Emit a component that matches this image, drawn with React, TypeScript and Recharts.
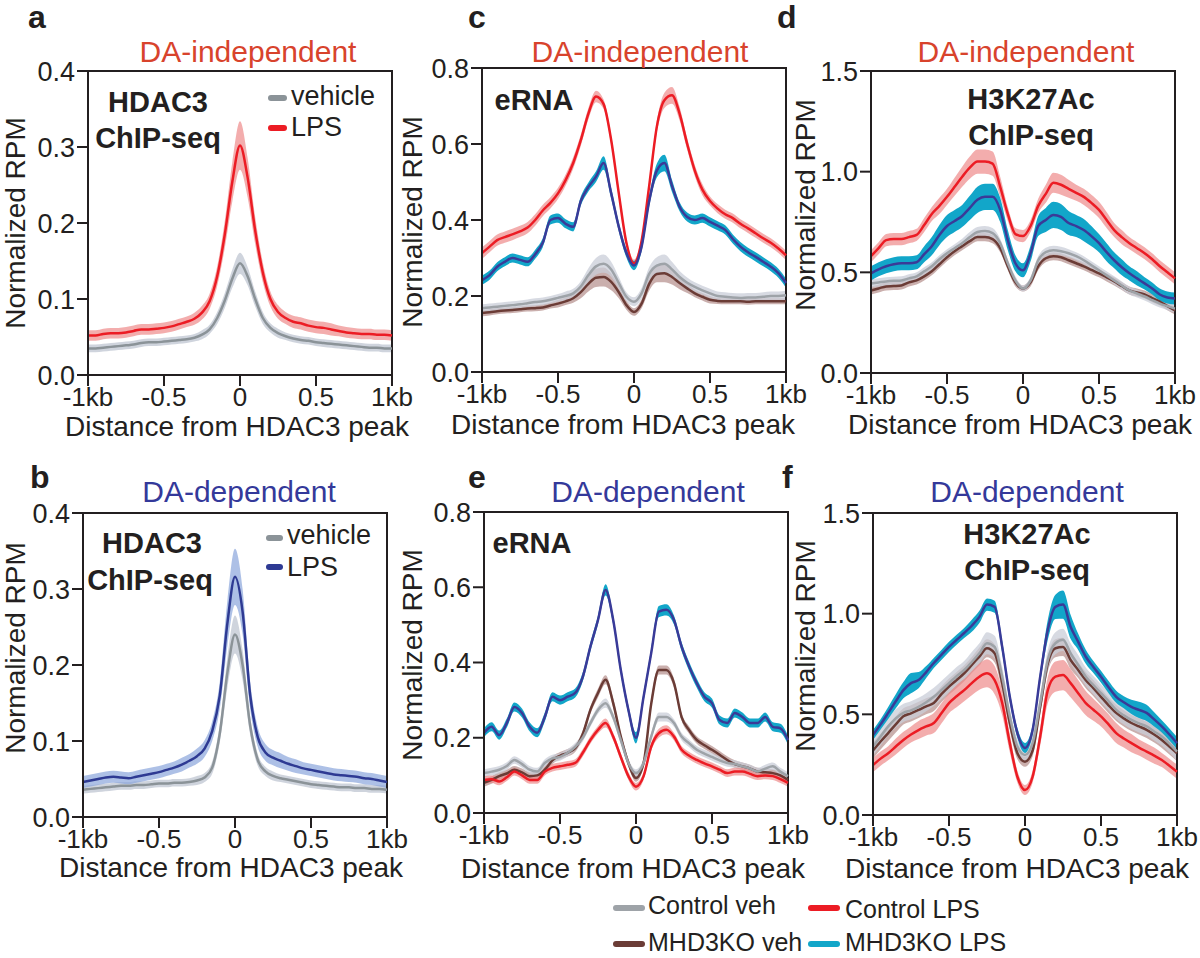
import { Area, ComposedChart, Line, ReferenceArea, XAxis, YAxis } from 'recharts'

const FONT = '"Liberation Sans", Arial, Helvetica, sans-serif'
const INK = '#231f20'
const RED_TXT = '#d8432c'
const BLUE_TXT = '#34399a'

// distance from HDAC3 peak (kb)
const xPos = [
  -1, -0.95, -0.9, -0.85, -0.8, -0.75, -0.7, -0.65, -0.6, -0.55,
  -0.5, -0.45, -0.4, -0.35, -0.3, -0.25, -0.2, -0.15, -0.1, -0.05,
  0,
  0.05, 0.1, 0.15, 0.2, 0.25, 0.3, 0.35, 0.4, 0.45, 0.5,
  0.55, 0.6, 0.65, 0.7, 0.75, 0.8, 0.85, 0.9, 0.95, 1,
]
const xTicks = [-1, -0.5, 0, 0.5, 1]
const xTickLabels = ['-1kb', '-0.5', '0', '0.5', '1kb']
const yTicksSmall = [0, 0.1, 0.2, 0.3, 0.4]
const yTicksMid = [0, 0.2, 0.4, 0.6, 0.8]
const yTicksLarge = [0, 0.5, 1, 1.5]

// a: HDAC3 ChIP-seq, DA-independent
const aLps = [
  0.052, 0.052, 0.054, 0.055, 0.055, 0.056, 0.058, 0.06, 0.06, 0.061,
  0.062, 0.064, 0.067, 0.07, 0.074, 0.082, 0.097, 0.13, 0.185, 0.255,
  0.302,
  0.26, 0.19, 0.135, 0.1, 0.083, 0.075, 0.07, 0.068, 0.065, 0.063,
  0.062, 0.06, 0.058, 0.056, 0.055, 0.054, 0.054, 0.053, 0.053, 0.052,
]
const aLpsErr = [
  0.007, 0.007, 0.007, 0.007, 0.007, 0.007, 0.007, 0.007, 0.007, 0.007,
  0.007, 0.007, 0.007, 0.007, 0.008, 0.009, 0.01, 0.013, 0.018, 0.026,
  0.032,
  0.026, 0.018, 0.013, 0.01, 0.009, 0.008, 0.008, 0.008, 0.008, 0.008,
  0.008, 0.008, 0.007, 0.007, 0.007, 0.007, 0.007, 0.007, 0.007, 0.007,
]
const aVeh = [
  0.035, 0.035, 0.036, 0.037, 0.038, 0.039, 0.04, 0.042, 0.043, 0.043,
  0.044, 0.045, 0.046, 0.047, 0.049, 0.053, 0.06, 0.075, 0.098, 0.127,
  0.147,
  0.13, 0.1, 0.075, 0.062, 0.055, 0.051, 0.048, 0.046, 0.045, 0.043,
  0.042, 0.041, 0.04, 0.039, 0.038, 0.037, 0.036, 0.036, 0.035, 0.035,
]
const aVehErr = [
  0.005, 0.005, 0.005, 0.005, 0.005, 0.005, 0.005, 0.005, 0.005, 0.005,
  0.005, 0.005, 0.005, 0.005, 0.005, 0.006, 0.006, 0.008, 0.01, 0.012,
  0.014,
  0.012, 0.01, 0.008, 0.006, 0.006, 0.005, 0.005, 0.005, 0.005, 0.005,
  0.005, 0.005, 0.005, 0.005, 0.005, 0.005, 0.005, 0.005, 0.005, 0.005,
]

// b: HDAC3 ChIP-seq, DA-dependent
const bLps = [
  0.046, 0.048, 0.05, 0.052, 0.053, 0.052, 0.051, 0.053, 0.055, 0.057,
  0.059, 0.062, 0.065, 0.069, 0.074, 0.08, 0.09, 0.113, 0.16, 0.255,
  0.316,
  0.27, 0.16, 0.105, 0.085, 0.078, 0.074, 0.07, 0.067, 0.064, 0.062,
  0.06, 0.058, 0.056, 0.055, 0.054, 0.053, 0.051, 0.05, 0.048, 0.046,
]
const bLpsErr = [
  0.008, 0.008, 0.008, 0.008, 0.008, 0.008, 0.008, 0.008, 0.008, 0.008,
  0.008, 0.008, 0.008, 0.009, 0.009, 0.01, 0.011, 0.013, 0.018, 0.03,
  0.037,
  0.03, 0.018, 0.013, 0.011, 0.01, 0.01, 0.009, 0.009, 0.008, 0.008,
  0.008, 0.008, 0.008, 0.008, 0.008, 0.008, 0.008, 0.008, 0.008, 0.008,
]
const bVeh = [
  0.036, 0.037, 0.038, 0.039, 0.04, 0.041, 0.041, 0.042, 0.042, 0.043,
  0.044, 0.044, 0.045, 0.045, 0.046, 0.048, 0.052, 0.065, 0.11, 0.19,
  0.24,
  0.2, 0.12, 0.075, 0.06, 0.054, 0.051, 0.049, 0.047, 0.045, 0.043,
  0.042, 0.041, 0.04, 0.039, 0.039, 0.038, 0.038, 0.037, 0.037, 0.036,
]
const bVehErr = [
  0.005, 0.005, 0.005, 0.005, 0.005, 0.005, 0.005, 0.005, 0.005, 0.005,
  0.005, 0.005, 0.005, 0.005, 0.005, 0.006, 0.006, 0.008, 0.012, 0.02,
  0.025,
  0.02, 0.012, 0.008, 0.006, 0.006, 0.005, 0.005, 0.005, 0.005, 0.005,
  0.005, 0.005, 0.005, 0.005, 0.005, 0.005, 0.005, 0.005, 0.005, 0.005,
]

// c: eRNA, DA-independent
const cLps = [
  0.313, 0.33, 0.347, 0.355, 0.362, 0.37, 0.38, 0.4, 0.425, 0.445,
  0.47, 0.505, 0.55, 0.61, 0.68, 0.725, 0.705, 0.61, 0.47, 0.34,
  0.286,
  0.345, 0.49, 0.645, 0.715, 0.728, 0.68, 0.6, 0.53, 0.48, 0.45,
  0.43, 0.415, 0.405, 0.39, 0.378, 0.365, 0.352, 0.34, 0.325, 0.307,
]
const cLpsErr = [
  0.015, 0.015, 0.015, 0.015, 0.015, 0.015, 0.015, 0.015, 0.015, 0.015,
  0.015, 0.015, 0.015, 0.015, 0.015, 0.015, 0.012, 0.012, 0.012, 0.01,
  0.01,
  0.01, 0.012, 0.015, 0.02, 0.022, 0.018, 0.015, 0.015, 0.015, 0.012,
  0.012, 0.012, 0.012, 0.012, 0.012, 0.012, 0.012, 0.012, 0.012, 0.012,
]
const cKoLps = [
  0.242, 0.255, 0.277, 0.29, 0.3, 0.295, 0.29, 0.31, 0.34, 0.4,
  0.405, 0.39, 0.382, 0.45, 0.487, 0.514, 0.55, 0.47, 0.382, 0.313,
  0.28,
  0.33, 0.45, 0.53, 0.55, 0.49, 0.435, 0.408, 0.4, 0.405, 0.395,
  0.385, 0.374, 0.35, 0.33, 0.315, 0.303, 0.29, 0.277, 0.26, 0.234,
]
const cKoLpsErr = [
  0.012, 0.012, 0.012, 0.012, 0.012, 0.012, 0.012, 0.012, 0.012, 0.012,
  0.012, 0.012, 0.012, 0.012, 0.012, 0.014, 0.018, 0.014, 0.012, 0.012,
  0.012,
  0.012, 0.014, 0.018, 0.022, 0.016, 0.012, 0.012, 0.012, 0.012, 0.012,
  0.012, 0.012, 0.012, 0.012, 0.012, 0.012, 0.012, 0.012, 0.012, 0.012,
]
const cVeh = [
  0.168, 0.17, 0.172, 0.174, 0.176, 0.178, 0.181, 0.184, 0.186, 0.19,
  0.195, 0.2, 0.207, 0.225, 0.255, 0.278, 0.285, 0.27, 0.234, 0.198,
  0.185,
  0.207, 0.258, 0.28, 0.285, 0.27, 0.25, 0.235, 0.224, 0.215, 0.207,
  0.2, 0.198, 0.196, 0.195, 0.196, 0.196, 0.198, 0.2, 0.2, 0.202,
]
const cVehErr = [
  0.01, 0.01, 0.01, 0.01, 0.01, 0.01, 0.01, 0.01, 0.01, 0.01,
  0.01, 0.012, 0.012, 0.014, 0.018, 0.022, 0.024, 0.02, 0.016, 0.012,
  0.012,
  0.014, 0.018, 0.022, 0.024, 0.02, 0.016, 0.014, 0.012, 0.012, 0.012,
  0.012, 0.012, 0.012, 0.012, 0.012, 0.012, 0.012, 0.012, 0.012, 0.012,
]
const cKoVeh = [
  0.155, 0.157, 0.16, 0.162, 0.163, 0.165, 0.167, 0.168, 0.17, 0.175,
  0.18, 0.186, 0.194, 0.21, 0.232, 0.248, 0.25, 0.237, 0.21, 0.176,
  0.158,
  0.18, 0.232, 0.258, 0.26, 0.25, 0.234, 0.22, 0.207, 0.198, 0.19,
  0.187, 0.186, 0.186, 0.186, 0.185, 0.186, 0.186, 0.186, 0.186, 0.186,
]
const cKoVehErr = [
  0.008, 0.008, 0.008, 0.008, 0.008, 0.008, 0.008, 0.008, 0.008, 0.008,
  0.01, 0.01, 0.012, 0.016, 0.02, 0.024, 0.025, 0.022, 0.016, 0.012,
  0.01,
  0.012, 0.018, 0.022, 0.024, 0.02, 0.016, 0.012, 0.01, 0.01, 0.01,
  0.008, 0.008, 0.008, 0.008, 0.008, 0.008, 0.008, 0.008, 0.008, 0.008,
]

// d: H3K27Ac ChIP-seq, DA-independent
const dLps = [
  0.58, 0.62, 0.66, 0.665, 0.665, 0.675, 0.686, 0.735, 0.79, 0.83,
  0.875, 0.925, 0.975, 1.02, 1.05, 1.05, 1.04, 0.925, 0.79, 0.69,
  0.68,
  0.73, 0.83, 0.89, 0.945, 0.935, 0.915, 0.895, 0.875, 0.845, 0.81,
  0.76, 0.71, 0.675, 0.645, 0.62, 0.595, 0.565, 0.53, 0.5, 0.47,
]
const dLpsErr = [
  0.03, 0.03, 0.03, 0.03, 0.03, 0.03, 0.03, 0.035, 0.035, 0.04,
  0.04, 0.045, 0.05, 0.055, 0.06, 0.06, 0.06, 0.05, 0.035, 0.03,
  0.03,
  0.03, 0.035, 0.045, 0.05, 0.05, 0.045, 0.04, 0.04, 0.04, 0.04,
  0.04, 0.035, 0.035, 0.03, 0.03, 0.03, 0.03, 0.03, 0.03, 0.03,
]
const dKoLps = [
  0.495, 0.515, 0.53, 0.54, 0.545, 0.545, 0.55, 0.59, 0.63, 0.685,
  0.73, 0.755, 0.78, 0.82, 0.86, 0.875, 0.875, 0.81, 0.66, 0.545,
  0.51,
  0.595, 0.73, 0.76, 0.785, 0.775, 0.745, 0.73, 0.71, 0.68, 0.645,
  0.6, 0.56, 0.525, 0.495, 0.47, 0.445, 0.42, 0.39, 0.375, 0.37,
]
const dKoLpsErr = [
  0.035, 0.035, 0.035, 0.035, 0.035, 0.035, 0.035, 0.04, 0.045, 0.05,
  0.055, 0.055, 0.055, 0.06, 0.065, 0.065, 0.065, 0.06, 0.05, 0.04,
  0.035,
  0.04, 0.05, 0.06, 0.065, 0.065, 0.06, 0.055, 0.055, 0.05, 0.045,
  0.045, 0.04, 0.04, 0.035, 0.035, 0.03, 0.03, 0.03, 0.03, 0.03,
]
const dVeh = [
  0.445, 0.45, 0.455, 0.458, 0.46, 0.47, 0.48, 0.505, 0.53, 0.565,
  0.595, 0.62, 0.645, 0.675, 0.7, 0.705, 0.695, 0.645, 0.545, 0.46,
  0.42,
  0.46, 0.56, 0.6, 0.61, 0.605, 0.595, 0.58, 0.56, 0.535, 0.51,
  0.485, 0.46, 0.435, 0.41, 0.395, 0.38, 0.362, 0.345, 0.332, 0.32,
]
const dVehErr = [
  0.02, 0.02, 0.02, 0.02, 0.02, 0.02, 0.02, 0.02, 0.02, 0.02,
  0.02, 0.02, 0.022, 0.025, 0.025, 0.025, 0.025, 0.022, 0.02, 0.02,
  0.015,
  0.018, 0.02, 0.022, 0.022, 0.022, 0.02, 0.02, 0.02, 0.02, 0.02,
  0.02, 0.02, 0.02, 0.02, 0.02, 0.02, 0.02, 0.02, 0.02, 0.02,
]
const dKoVeh = [
  0.41, 0.42, 0.43, 0.432, 0.435, 0.45, 0.46, 0.48, 0.505, 0.54,
  0.575, 0.605, 0.63, 0.655, 0.675, 0.675, 0.665, 0.62, 0.53, 0.45,
  0.42,
  0.45, 0.53, 0.57, 0.58, 0.575, 0.56, 0.545, 0.53, 0.512, 0.495,
  0.475, 0.455, 0.432, 0.41, 0.4, 0.39, 0.372, 0.355, 0.332, 0.31,
]
const dKoVehErr = [
  0.02, 0.02, 0.02, 0.02, 0.02, 0.02, 0.02, 0.02, 0.02, 0.02,
  0.02, 0.02, 0.02, 0.02, 0.02, 0.02, 0.02, 0.02, 0.02, 0.02,
  0.015,
  0.02, 0.02, 0.02, 0.02, 0.02, 0.02, 0.02, 0.02, 0.02, 0.02,
  0.02, 0.02, 0.02, 0.02, 0.02, 0.02, 0.02, 0.02, 0.02, 0.02,
]

// e: eRNA, DA-dependent
const eKoLps = [
  0.213, 0.229, 0.207, 0.239, 0.282, 0.266, 0.229, 0.213, 0.255, 0.309,
  0.3, 0.309, 0.319, 0.362, 0.442, 0.513, 0.593, 0.513, 0.38, 0.274,
  0.2,
  0.309, 0.425, 0.535, 0.54, 0.513, 0.442, 0.389, 0.345, 0.309, 0.292,
  0.247, 0.239, 0.266, 0.255, 0.239, 0.239, 0.255, 0.229, 0.225, 0.194,
]
const eKoLpsErr = [
  0.012, 0.012, 0.012, 0.012, 0.012, 0.012, 0.012, 0.012, 0.012, 0.012,
  0.012, 0.012, 0.012, 0.012, 0.012, 0.012, 0.015, 0.012, 0.012, 0.012,
  0.015,
  0.012, 0.012, 0.015, 0.015, 0.012, 0.012, 0.012, 0.012, 0.012, 0.012,
  0.012, 0.012, 0.012, 0.012, 0.012, 0.012, 0.012, 0.012, 0.012, 0.012,
]
const eVeh = [
  0.106, 0.11, 0.115, 0.125, 0.141, 0.13, 0.115, 0.11, 0.133, 0.145,
  0.149, 0.16, 0.176, 0.2, 0.239, 0.274, 0.292, 0.255, 0.194, 0.133,
  0.106,
  0.133, 0.203, 0.255, 0.255, 0.239, 0.203, 0.185, 0.168, 0.158, 0.149,
  0.14, 0.133, 0.13, 0.124, 0.118, 0.11, 0.118, 0.124, 0.11, 0.098,
]
const eVehErr = [
  0.01, 0.01, 0.01, 0.01, 0.01, 0.01, 0.01, 0.01, 0.01, 0.01,
  0.01, 0.01, 0.01, 0.01, 0.01, 0.01, 0.012, 0.01, 0.01, 0.01,
  0.01,
  0.01, 0.01, 0.012, 0.012, 0.01, 0.01, 0.01, 0.01, 0.01, 0.01,
  0.01, 0.01, 0.01, 0.01, 0.01, 0.01, 0.01, 0.01, 0.01, 0.01,
]
const eKoVeh = [
  0.08, 0.088, 0.098, 0.105, 0.115, 0.108, 0.098, 0.1, 0.115, 0.14,
  0.152, 0.16, 0.172, 0.21, 0.274, 0.319, 0.354, 0.292, 0.203, 0.133,
  0.093,
  0.133, 0.29, 0.38, 0.38, 0.345, 0.255, 0.22, 0.194, 0.18, 0.168,
  0.155, 0.141, 0.13, 0.124, 0.118, 0.11, 0.108, 0.106, 0.1, 0.088,
]
const eKoVehErr = [
  0.01, 0.01, 0.01, 0.01, 0.01, 0.01, 0.01, 0.01, 0.01, 0.01,
  0.01, 0.01, 0.01, 0.01, 0.01, 0.012, 0.012, 0.012, 0.01, 0.01,
  0.01,
  0.01, 0.012, 0.012, 0.012, 0.012, 0.01, 0.01, 0.01, 0.01, 0.01,
  0.01, 0.01, 0.01, 0.01, 0.01, 0.01, 0.01, 0.01, 0.01, 0.01,
]
const eLps = [
  0.088, 0.09, 0.084, 0.095, 0.11, 0.1, 0.088, 0.088, 0.11, 0.12,
  0.124, 0.128, 0.133, 0.16, 0.194, 0.221, 0.239, 0.203, 0.149, 0.098,
  0.07,
  0.098, 0.176, 0.212, 0.221, 0.203, 0.168, 0.152, 0.141, 0.132, 0.124,
  0.115, 0.106, 0.11, 0.11, 0.104, 0.098, 0.1, 0.098, 0.09, 0.08,
]
const eLpsErr = [
  0.01, 0.01, 0.01, 0.01, 0.01, 0.01, 0.01, 0.01, 0.01, 0.01,
  0.01, 0.01, 0.01, 0.01, 0.01, 0.01, 0.012, 0.01, 0.01, 0.01,
  0.01,
  0.01, 0.01, 0.012, 0.012, 0.01, 0.01, 0.01, 0.01, 0.01, 0.01,
  0.01, 0.01, 0.01, 0.01, 0.01, 0.01, 0.01, 0.01, 0.01, 0.01,
]

// f: H3K27Ac ChIP-seq, DA-dependent
const fKoLps = [
  0.397, 0.45, 0.507, 0.565, 0.62, 0.655, 0.67, 0.71, 0.755, 0.795,
  0.835, 0.87, 0.904, 0.94, 0.984, 1.045, 1.034, 0.835, 0.587, 0.407,
  0.333,
  0.422, 0.687, 0.92, 1.034, 1.045, 0.935, 0.86, 0.786, 0.735, 0.687,
  0.635, 0.587, 0.56, 0.537, 0.522, 0.507, 0.475, 0.44, 0.4, 0.357,
]
const fKoLpsErr = [
  0.025, 0.025, 0.03, 0.035, 0.04, 0.05, 0.04, 0.03, 0.025, 0.025,
  0.025, 0.025, 0.025, 0.03, 0.03, 0.03, 0.03, 0.03, 0.025, 0.025,
  0.025,
  0.025, 0.03, 0.05, 0.06, 0.07, 0.06, 0.04, 0.035, 0.03, 0.03,
  0.03, 0.03, 0.03, 0.035, 0.04, 0.04, 0.035, 0.03, 0.03, 0.03,
]
const fLps = [
  0.248, 0.28, 0.307, 0.34, 0.373, 0.4, 0.422, 0.44, 0.457, 0.505,
  0.556, 0.59, 0.62, 0.655, 0.687, 0.704, 0.67, 0.556, 0.357, 0.19,
  0.124,
  0.19, 0.39, 0.62, 0.687, 0.695, 0.655, 0.605, 0.556, 0.523, 0.49,
  0.45, 0.407, 0.38, 0.357, 0.335, 0.315, 0.295, 0.273, 0.245, 0.215,
]
const fLpsErr = [
  0.035, 0.035, 0.035, 0.04, 0.04, 0.04, 0.045, 0.045, 0.05, 0.05,
  0.05, 0.055, 0.055, 0.06, 0.065, 0.07, 0.07, 0.06, 0.045, 0.03,
  0.025,
  0.03, 0.045, 0.065, 0.075, 0.075, 0.07, 0.065, 0.06, 0.055, 0.05,
  0.05, 0.05, 0.045, 0.045, 0.04, 0.04, 0.04, 0.035, 0.035, 0.035,
]
const fVeh = [
  0.34, 0.39, 0.44, 0.48, 0.507, 0.52, 0.537, 0.56, 0.587, 0.62,
  0.655, 0.69, 0.72, 0.76, 0.803, 0.853, 0.835, 0.687, 0.49, 0.34,
  0.298,
  0.357, 0.556, 0.77, 0.853, 0.87, 0.803, 0.745, 0.687, 0.645, 0.605,
  0.565, 0.522, 0.495, 0.472, 0.455, 0.44, 0.415, 0.39, 0.355, 0.315,
]
const fVehErr = [
  0.045, 0.045, 0.045, 0.045, 0.045, 0.045, 0.045, 0.045, 0.045, 0.045,
  0.045, 0.045, 0.045, 0.05, 0.05, 0.055, 0.055, 0.05, 0.04, 0.035,
  0.03,
  0.035, 0.04, 0.05, 0.055, 0.055, 0.05, 0.05, 0.045, 0.045, 0.045,
  0.045, 0.045, 0.045, 0.045, 0.045, 0.045, 0.045, 0.045, 0.045, 0.045,
]
const fKoVeh = [
  0.32, 0.365, 0.407, 0.45, 0.49, 0.505, 0.522, 0.54, 0.556, 0.6,
  0.638, 0.67, 0.704, 0.745, 0.787, 0.828, 0.803, 0.655, 0.457, 0.307,
  0.265,
  0.32, 0.537, 0.753, 0.828, 0.835, 0.77, 0.72, 0.67, 0.63, 0.587,
  0.545, 0.507, 0.48, 0.457, 0.44, 0.423, 0.4, 0.373, 0.34, 0.307,
]
const fKoVehErr = [
  0.04, 0.04, 0.04, 0.04, 0.04, 0.04, 0.04, 0.04, 0.04, 0.04,
  0.04, 0.04, 0.04, 0.04, 0.045, 0.045, 0.045, 0.04, 0.035, 0.03,
  0.025,
  0.03, 0.035, 0.04, 0.045, 0.045, 0.045, 0.04, 0.04, 0.04, 0.04,
  0.04, 0.04, 0.04, 0.04, 0.04, 0.04, 0.04, 0.04, 0.04, 0.04,
]

interface Series {
  key: string
  mean: number[]
  err: number[]
  line: string
  band: string
  bandOpacity: number
}

const C = {
  red: '#ec1c24',
  redBand: '#ee8a8a',
  grayA: '#8b9398',
  grayABand: '#c3c9d5',
  blueB: '#2e3a93',
  blueBBand: '#8aa5dc',
  veh: '#9ea3a8',
  vehBand: '#c9ced8',
  koVeh: '#6b3c36',
  koVehBand: '#a67a76',
  koLps: '#3a3a98',
  koLpsBand: '#12a6c9',
}

const seriesA: Series[] = [
  { key: 'veh', mean: aVeh, err: aVehErr, line: C.grayA, band: C.grayABand, bandOpacity: 0.8 },
  { key: 'lps', mean: aLps, err: aLpsErr, line: C.red, band: C.redBand, bandOpacity: 0.7 },
]
const seriesB: Series[] = [
  { key: 'veh', mean: bVeh, err: bVehErr, line: C.grayA, band: C.grayABand, bandOpacity: 0.8 },
  { key: 'lps', mean: bLps, err: bLpsErr, line: C.blueB, band: C.blueBBand, bandOpacity: 0.7 },
]
const fourSeries = (veh: number[], vehErr: number[], koVeh: number[], koVehErr: number[],
  lps: number[], lpsErr: number[], koLps: number[], koLpsErr: number[]): Series[] => [
  { key: 'koVeh', mean: koVeh, err: koVehErr, line: C.koVeh, band: C.koVehBand, bandOpacity: 0.6 },
  { key: 'veh', mean: veh, err: vehErr, line: C.veh, band: C.vehBand, bandOpacity: 0.75 },
  { key: 'lps', mean: lps, err: lpsErr, line: C.red, band: C.redBand, bandOpacity: 0.7 },
  { key: 'koLps', mean: koLps, err: koLpsErr, line: C.koLps, band: C.koLpsBand, bandOpacity: 1 },
]
const seriesC = fourSeries(cVeh, cVehErr, cKoVeh, cKoVehErr, cLps, cLpsErr, cKoLps, cKoLpsErr)
const seriesD = fourSeries(dVeh, dVehErr, dKoVeh, dKoVehErr, dLps, dLpsErr, dKoLps, dKoLpsErr)
const seriesE = fourSeries(eVeh, eVehErr, eKoVeh, eKoVehErr, eLps, eLpsErr, eKoLps, eKoLpsErr)
const seriesF = fourSeries(fVeh, fVehErr, fKoVeh, fKoVehErr, fLps, fLpsErr, fKoLps, fKoLpsErr)

const buildRows = (series: Series[]) =>
  xPos.map((x, i) => {
    const row: Record<string, unknown> = { x }
    series.forEach((s) => {
      row[s.key] = s.mean[i]
      row[`${s.key}Band`] = [s.mean[i] - s.err[i], s.mean[i] + s.err[i]]
    })
    return row
  })

const Y_AXIS_W = 88
const TOP_PAD = 22
const RIGHT_PAD = 30
const X_AXIS_H = 48

interface PanelProps {
  left: number
  top: number
  width: number
  height: number
  yMax: number
  yTicks: number[]
  series: Series[]
}

const Panel = ({ left, top, width, height, yMax, yTicks, series }: PanelProps) => (
  <div style={{ position: 'absolute', left: left - Y_AXIS_W, top: top - TOP_PAD }}>
    <ComposedChart
      width={Y_AXIS_W + width + RIGHT_PAD}
      height={TOP_PAD + height + X_AXIS_H}
      data={buildRows(series)}
      margin={{ top: TOP_PAD, right: RIGHT_PAD, bottom: 0, left: 0 }}
    >
      <XAxis
        dataKey="x"
        type="number"
        domain={[-1, 1]}
        ticks={xTicks}
        interval={0}
        tickFormatter={(v: number) => xTickLabels[xTicks.indexOf(v)]}
        height={X_AXIS_H}
        tickSize={11}
        tickMargin={2}
        axisLine={{ stroke: INK, strokeWidth: 2 }}
        tickLine={{ stroke: INK, strokeWidth: 2 }}
        tick={{ fill: INK, fontSize: 26, fontFamily: FONT }}
      />
      <YAxis
        type="number"
        domain={[0, yMax]}
        ticks={yTicks}
        interval={0}
        tickFormatter={(v: number) => v.toFixed(1)}
        width={Y_AXIS_W}
        tickSize={11}
        tickMargin={2}
        axisLine={{ stroke: INK, strokeWidth: 2 }}
        tickLine={{ stroke: INK, strokeWidth: 2 }}
        tick={{ fill: INK, fontSize: 27, fontFamily: FONT }}
      />
      {series.map((s) => (
        <Area
          key={`${s.key}-band`}
          type="monotone"
          dataKey={`${s.key}Band`}
          stroke="none"
          fill={s.band}
          fillOpacity={s.bandOpacity}
          dot={false}
          activeDot={false}
          isAnimationActive={false}
        />
      ))}
      {series.map((s) => (
        <Line
          key={`${s.key}-line`}
          type="monotone"
          dataKey={s.key}
          stroke={s.line}
          strokeWidth={2.5}
          dot={false}
          activeDot={false}
          isAnimationActive={false}
        />
      ))}
      <ReferenceArea x1={-1} x2={1} y1={0} y2={yMax} fill="none" stroke={INK} strokeWidth={2} ifOverflow="visible" />
    </ComposedChart>
  </div>
)

interface TxtProps {
  x: number
  y: number
  size: number
  color?: string
  bold?: boolean
  align?: 'left' | 'center'
  rotate?: boolean
  children: React.ReactNode
}

// line-height under 1 keeps the box tight around the glyphs so stacked labels don't collide
const Txt = ({ x, y, size, color = INK, bold = false, align = 'center', rotate = false, children }: TxtProps) => (
  <div
    style={{
      position: 'absolute',
      left: x,
      top: y,
      transform: `translate(${align === 'center' ? '-50%' : '0'}, -50%)${rotate ? ' rotate(-90deg)' : ''}`,
      fontSize: size,
      lineHeight: 0.85,
      whiteSpace: 'nowrap',
      color,
      fontWeight: bold ? 700 : 400,
      fontFamily: FONT,
    }}
  >
    {children}
  </div>
)

const Swatch = ({ x1, x2, y, color }: { x1: number; x2: number; y: number; color: string }) => (
  <div
    style={{
      position: 'absolute',
      left: x1,
      top: y - 3,
      width: x2 - x1,
      height: 6,
      borderRadius: 3,
      background: color,
    }}
  />
)

const App = () => (
  <div
    style={{
      position: 'absolute',
      left: 0,
      top: 0,
      width: 1200,
      height: 958,
      background: '#fff',
      overflow: 'hidden',
      fontFamily: FONT,
    }}
  >
    <Panel left={88} top={71} width={304} height={304} yMax={0.4} yTicks={yTicksSmall} series={seriesA} />
    <Panel left={482} top={68} width={304} height={304} yMax={0.8} yTicks={yTicksMid} series={seriesC} />
    <Panel left={871} top={71} width={304} height={302} yMax={1.5} yTicks={yTicksLarge} series={seriesD} />
    <Panel left={83} top={513} width={304} height={304} yMax={0.4} yTicks={yTicksSmall} series={seriesB} />
    <Panel left={484} top={512} width={304} height={301} yMax={0.8} yTicks={yTicksMid} series={seriesE} />
    <Panel left={873} top={513} width={304} height={302} yMax={1.5} yTicks={yTicksLarge} series={seriesF} />

    {/* panel letters */}
    <Txt x={28} y={18} size={32} bold align="left">a</Txt>
    <Txt x={468} y={18} size={32} bold align="left">c</Txt>
    <Txt x={777} y={18} size={32} bold align="left">d</Txt>
    <Txt x={30} y={478} size={32} bold align="left">b</Txt>
    <Txt x={468} y={478} size={32} bold align="left">e</Txt>
    <Txt x={782} y={478} size={32} bold align="left">f</Txt>

    {/* subtitles */}
    <Txt x={248} y={52} size={30} color={RED_TXT}>DA-independent</Txt>
    <Txt x={640} y={52} size={30} color={RED_TXT}>DA-independent</Txt>
    <Txt x={1026} y={52} size={30} color={RED_TXT}>DA-independent</Txt>
    <Txt x={239} y={492} size={30} color={BLUE_TXT}>DA-dependent</Txt>
    <Txt x={648} y={492} size={30} color={BLUE_TXT}>DA-dependent</Txt>
    <Txt x={1027} y={492} size={30} color={BLUE_TXT}>DA-dependent</Txt>

    {/* y-axis titles */}
    <Txt x={16} y={223} size={28} rotate>Normalized RPM</Txt>
    <Txt x={413} y={222} size={28} rotate>Normalized RPM</Txt>
    <Txt x={806} y={205} size={28} rotate>Normalized RPM</Txt>
    <Txt x={16} y={648} size={28} rotate>Normalized RPM</Txt>
    <Txt x={413} y={655} size={28} rotate>Normalized RPM</Txt>
    <Txt x={806} y={646} size={28} rotate>Normalized RPM</Txt>

    {/* x-axis titles */}
    <Txt x={237} y={427} size={28}>Distance from HDAC3 peak</Txt>
    <Txt x={623} y={425} size={28}>Distance from HDAC3 peak</Txt>
    <Txt x={1020} y={425} size={28}>Distance from HDAC3 peak</Txt>
    <Txt x={231} y={868} size={28}>Distance from HDAC3 peak</Txt>
    <Txt x={633} y={869} size={28}>Distance from HDAC3 peak</Txt>
    <Txt x={1017} y={869} size={28}>Distance from HDAC3 peak</Txt>

    {/* in-plot annotations */}
    <Txt x={158} y={102} size={29} bold>HDAC3</Txt>
    <Txt x={158} y={138} size={29} bold>ChIP-seq</Txt>
    <Txt x={152} y={543} size={29} bold>HDAC3</Txt>
    <Txt x={150} y={580} size={29} bold>ChIP-seq</Txt>
    <Txt x={534} y={100} size={29} bold>eRNA</Txt>
    <Txt x={532} y={543} size={29} bold>eRNA</Txt>
    <Txt x={1031} y={99} size={29} bold>H3K27Ac</Txt>
    <Txt x={1031} y={135} size={29} bold>ChIP-seq</Txt>
    <Txt x={1027} y={534} size={29} bold>H3K27Ac</Txt>
    <Txt x={1027} y={570} size={29} bold>ChIP-seq</Txt>

    {/* legends in a and b */}
    <Swatch x1={268} x2={287} y={98} color={C.grayA} />
    <Txt x={291} y={96} size={27} align="left">vehicle</Txt>
    <Swatch x1={268} x2={287} y={128} color={C.red} />
    <Txt x={291} y={127} size={27} align="left">LPS</Txt>
    <Swatch x1={266} x2={283} y={538} color={C.grayA} />
    <Txt x={287} y={535} size={27} align="left">vehicle</Txt>
    <Swatch x1={266} x2={283} y={567} color={C.blueB} />
    <Txt x={287} y={567} size={27} align="left">LPS</Txt>

    {/* shared legend */}
    <Swatch x1={613} x2={645} y={908} color={C.veh} />
    <Txt x={648} y={906} size={25} align="left">Control veh</Txt>
    <Swatch x1={613} x2={645} y={944} color={C.koVeh} />
    <Txt x={648} y={943} size={25} align="left">MHD3KO veh</Txt>
    <Swatch x1={808} x2={840} y={908} color={C.red} />
    <Txt x={845} y={910} size={25} align="left">Control LPS</Txt>
    <Swatch x1={808} x2={840} y={944} color={C.koLpsBand} />
    <Txt x={845} y={943} size={25} align="left">MHD3KO LPS</Txt>
  </div>
)

export default App
